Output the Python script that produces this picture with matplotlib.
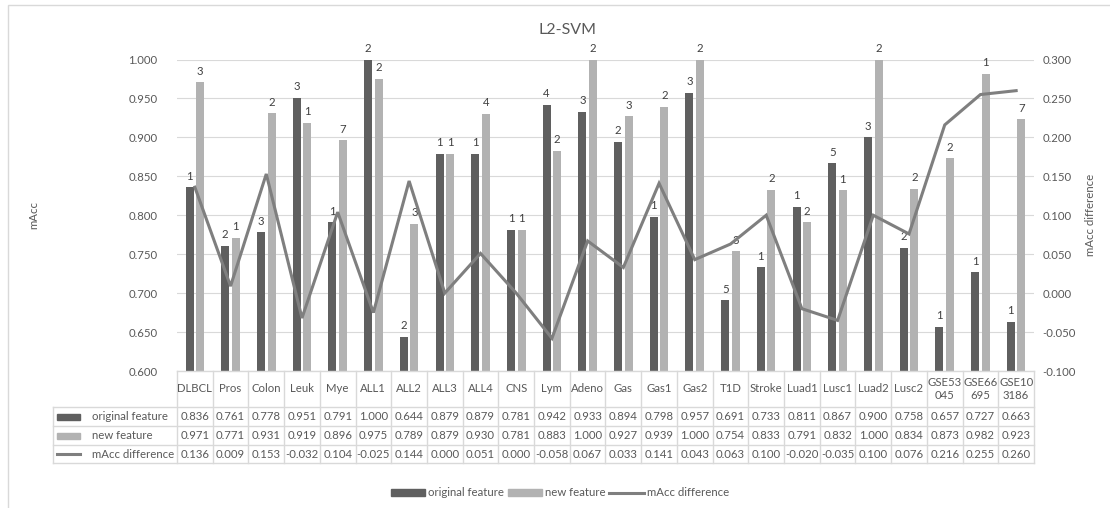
import matplotlib
matplotlib.use("Agg")
import matplotlib.pyplot as plt
import numpy as np
from matplotlib.patches import Rectangle, Patch
from matplotlib.lines import Line2D
from matplotlib.transforms import blended_transform_factory

plt.rcParams['font.family'] = ['Lato', 'DejaVu Sans']

categories = ["DLBCL", "Pros", "Colon", "Leuk", "Mye", "ALL1", "ALL2", "ALL3", "ALL4", "CNS",
              "Lym", "Adeno", "Gas", "Gas1", "Gas2", "T1D", "Stroke", "Luad1", "Lusc1", "Luad2",
              "Lusc2", "GSE53\n045", "GSE66\n695", "GSE10\n3186"]
original_feature = [0.836, 0.761, 0.778, 0.951, 0.791, 1.000, 0.644, 0.879, 0.879, 0.781,
                    0.942, 0.933, 0.894, 0.798, 0.957, 0.691, 0.733, 0.811, 0.867, 0.900,
                    0.758, 0.657, 0.727, 0.663]
new_feature = [0.971, 0.771, 0.931, 0.919, 0.896, 0.975, 0.789, 0.879, 0.930, 0.781,
               0.883, 1.000, 0.927, 0.939, 1.000, 0.754, 0.833, 0.791, 0.832, 1.000,
               0.834, 0.873, 0.982, 0.923]
macc_difference = [0.136, 0.009, 0.153, -0.032, 0.104, -0.025, 0.144, 0.000, 0.051, 0.000,
                   -0.058, 0.067, 0.033, 0.141, 0.043, 0.063, 0.100, -0.020, -0.035, 0.100,
                   0.076, 0.216, 0.255, 0.260]
original_counts = [1, 2, 3, 3, 1, 2, 2, 1, 1, 1, 4, 3, 2, 1, 3, 5, 1, 1, 5, 3, 2, 1, 1, 1]
new_counts = [3, 1, 2, 1, 7, 2, 3, 1, 4, 1, 2, 2, 3, 2, 2, 3, 2, 2, 1, 2, 2, 2, 1, 7]
series_names = ["original feature", "new feature", "mAcc difference"]

W, H = 1110, 508
DARK, LIGHT, LINE = "#5f5f5f", "#b2b2b2", "#7f7f7f"
TEXT, GRID = "#595959", "#d9d9d9"
FS = 8.2

fig = plt.figure(figsize=(W / 100, H / 100), dpi=100)

def fx(px):
    return px / W

def fy(py):
    return (H - py) / H

# chart area border
fig.patches.append(Rectangle((fx(8), fy(520)), fx(1130) - fx(8), fy(5) - fy(520),
                             transform=fig.transFigure, fill=False, edgecolor=GRID, lw=1))

ax_left, ax_right, ax_top, ax_bot = 177, 1034, 59.5, 371
ax = fig.add_axes([fx(ax_left), fy(ax_bot), fx(ax_right) - fx(ax_left), fy(ax_top) - fy(ax_bot)])
ax2 = ax.twinx()

n = len(categories)
x = np.arange(n)
bw, off = 0.224, 0.148
b1 = ax.bar(x - off, original_feature, width=bw, color=DARK, zorder=2)
b2 = ax.bar(x + off, new_feature, width=bw, color=LIGHT, zorder=2)

for bars, counts in ((b1, original_counts), (b2, new_counts)):
    for rect, c in zip(bars, counts):
        ax.annotate(str(c), (rect.get_x() + rect.get_width() / 2, rect.get_height()),
                    xytext=(0, 4), textcoords="offset points", ha="center", va="bottom",
                    fontsize=FS, color="#404040", annotation_clip=False)

ax.set_xlim(-0.5, n - 0.5)
ax.set_ylim(0.6, 1.0)
ax.set_yticks(np.arange(0.6, 1.0001, 0.05))
ax.yaxis.set_major_formatter(matplotlib.ticker.FormatStrFormatter("%.3f"))
ax.set_xticks([])
ax.grid(axis="y", color=GRID, lw=0.8, zorder=0)
ax.set_axisbelow(True)
ax.tick_params(axis="y", length=0, pad=14, labelsize=FS, labelcolor=TEXT)

ax2.plot(x, macc_difference, color=LINE, lw=2.2, zorder=3, solid_joinstyle="miter")
ax2.set_ylim(-0.1, 0.3)
ax2.set_yticks(np.arange(-0.1, 0.3001, 0.05))
ax2.yaxis.set_major_formatter(matplotlib.ticker.FormatStrFormatter("%.3f"))
ax2.tick_params(axis="y", length=0, pad=6, labelsize=FS, labelcolor=TEXT)

for a in (ax, ax2):
    for s in a.spines.values():
        s.set_visible(False)

# axis titles and chart title
fig.text(fx(567), fy(30), "L2-SVM", ha="center", va="center", fontsize=11.5, color=TEXT)
fig.text(fx(34), fy(215), "mAcc", ha="center", va="center", rotation=90, fontsize=FS, color=TEXT)
fig.text(fx(1091), fy(215), "mAcc difference", ha="center", va="center", rotation=90,
         fontsize=FS, color=TEXT)

# data table below the plot
tr = blended_transform_factory(ax.transData, fig.transFigure)
row_y = [371, 407, 426, 445, 463]
label_left = 53

def hline(x0, x1, py):
    fig.add_artist(Line2D([fx(x0), fx(x1)], [fy(py), fy(py)], transform=fig.transFigure,
                          color=GRID, lw=1))

hline(ax_left, ax_right, row_y[0])
for py in row_y[1:]:
    hline(label_left, ax_right, py)
fig.add_artist(Line2D([fx(label_left)] * 2, [fy(row_y[1]), fy(row_y[-1])],
                      transform=fig.transFigure, color=GRID, lw=1))
for k in range(n + 1):
    fig.add_artist(Line2D([k - 0.5] * 2, [fy(row_y[0]), fy(row_y[-1])], transform=tr,
                          color=GRID, lw=1))

header_mid = (row_y[0] + row_y[1]) / 2
for i, name in enumerate(categories):
    fig.text(i, fy(header_mid), name, transform=tr, ha="center", va="center",
             fontsize=FS, color=TEXT, linespacing=1.25)

rows = [original_feature, new_feature, macc_difference]
for r, vals in enumerate(rows):
    mid = (row_y[r + 1] + row_y[r + 2]) / 2
    for i, v in enumerate(vals):
        fig.text(i, fy(mid), f"{v:.3f}", transform=tr, ha="center", va="center",
                 fontsize=FS, color=TEXT)
    fig.text(fx(92), fy(mid), series_names[r], ha="left", va="center", fontsize=FS, color=TEXT)
    if r < 2:
        fig.patches.append(Rectangle((fx(57), fy(mid + 3)), fx(80) - fx(57), fy(mid - 3) - fy(mid + 3),
                                     transform=fig.transFigure, color=DARK if r == 0 else LIGHT))
    else:
        fig.add_artist(Line2D([fx(57), fx(80)], [fy(mid), fy(mid)], transform=fig.transFigure,
                              color=LINE, lw=2.2))

handles = [Patch(color=DARK), Patch(color=LIGHT), Line2D([], [], color=LINE, lw=2.2)]
fig.legend(handles, series_names, loc="center", bbox_to_anchor=(fx(560), fy(493)), ncol=3,
           frameon=False, fontsize=FS, labelcolor=TEXT, handlelength=3.0, handleheight=0.6,
           handletextpad=0.3, columnspacing=0.3)

fig.savefig("out.png", dpi=100)
